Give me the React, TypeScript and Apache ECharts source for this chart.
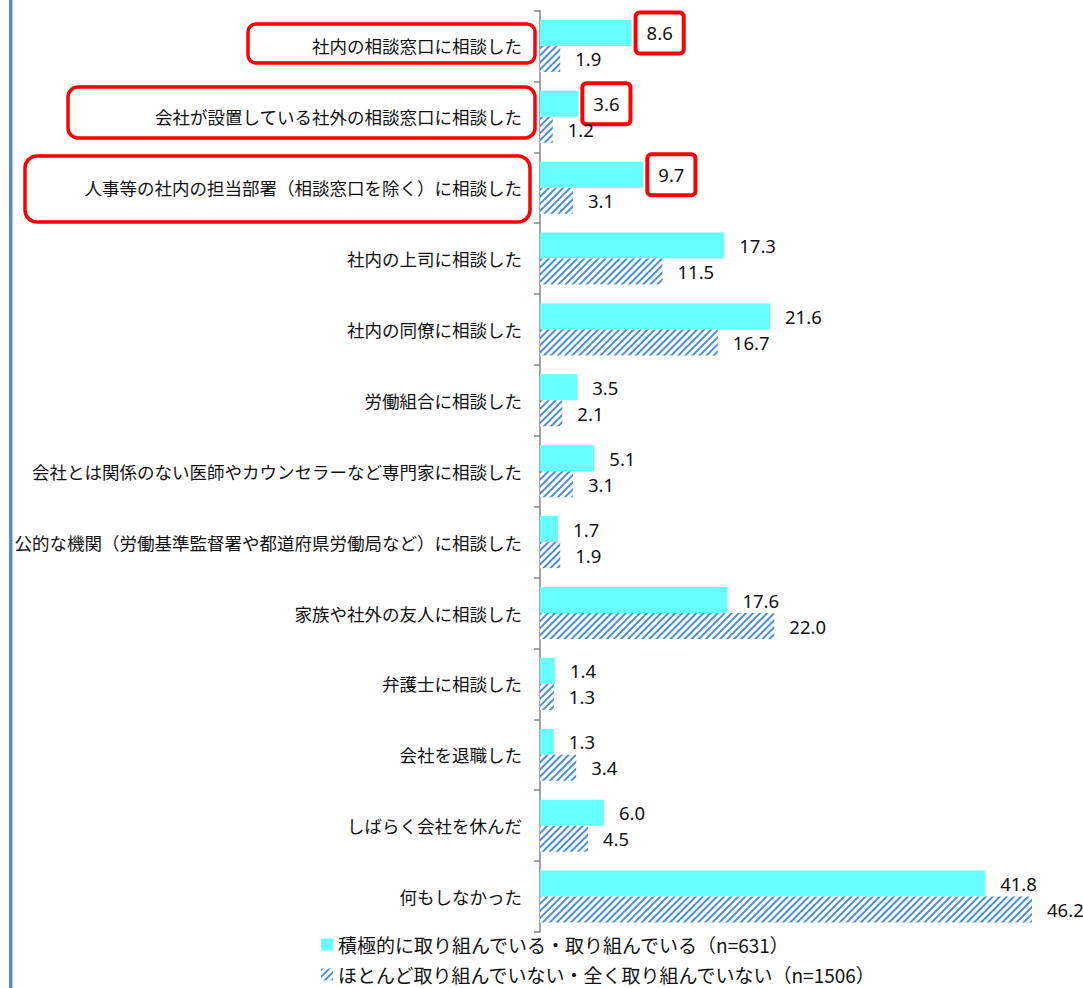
import React, { useEffect, useRef } from "react";
import * as echarts from "echarts";

const categories = [
  "社内の相談窓口に相談した",
  "会社が設置している社外の相談窓口に相談した",
  "人事等の社内の担当部署（相談窓口を除く）に相談した",
  "社内の上司に相談した",
  "社内の同僚に相談した",
  "労働組合に相談した",
  "会社とは関係のない医師やカウンセラーなど専門家に相談した",
  "公的な機関（労働基準監督署や都道府県労働局など）に相談した",
  "家族や社外の友人に相談した",
  "弁護士に相談した",
  "会社を退職した",
  "しばらく会社を休んだ",
  "何もしなかった",
];

const activeName = "積極的に取り組んでいる・取り組んでいる（n=631）";
const inactiveName = "ほとんど取り組んでいない・全く取り組んでいない（n=1506）";

const activeValues = [8.6, 3.6, 9.7, 17.3, 21.6, 3.5, 5.1, 1.7, 17.6, 1.4, 1.3, 6.0, 41.8];
const inactiveValues = [1.9, 1.2, 3.1, 11.5, 16.7, 2.1, 3.1, 1.9, 22.0, 1.3, 3.4, 4.5, 46.2];

const highlighted = [0, 1, 2];

const FONT = "'Noto Sans CJK JP', 'Noto Sans', sans-serif";
const NUMFONT = "'Noto Sans', 'Liberation Sans', sans-serif";

export default function App() {
  const ref = useRef<HTMLDivElement>(null);

  useEffect(() => {
    if (!ref.current) return;
    const chart = echarts.init(ref.current, null, { renderer: "svg" });

    const activeData = activeValues.map((v, i) =>
      highlighted.includes(i)
        ? {
            value: v,
            label: {
              distance: 6,
              borderColor: "#ff0000",
              borderWidth: 4,
              borderRadius: 2,
              padding: [10, 9, 8, 9],
              backgroundColor: "#ffffff",
            },
          }
        : { value: v }
    );

    const legendCommon = {
      orient: "horizontal",
      left: 316,
      itemWidth: 12,
      itemHeight: 12,
      icon: "rect",
      textStyle: { fontFamily: FONT, fontSize: 19, color: "#111" },
    };

    const labelCommon = {
      show: true,
      position: "right",
      distance: 15,
      color: "#111",
      fontFamily: NUMFONT,
      fontSize: 18.5,
      formatter: (p: any) => Number(p.value).toFixed(1),
    };

    const option: any = {
      animation: false,
      backgroundColor: "#ffffff",
      grid: { left: 540, right: 10.5, top: 10.5, height: 921.5, containLabel: false },
      xAxis: {
        type: "value",
        min: 0,
        max: 50,
        show: false,
      },
      yAxis: {
        type: "category",
        data: categories,
        inverse: true,
        axisLine: { show: true, lineStyle: { color: "#868686", width: 1.5 } },
        axisTick: { show: true, inside: false, length: 6, lineStyle: { color: "#868686", width: 1.5 } },
        axisLabel: {
          color: "#111",
          fontFamily: FONT,
          fontSize: 17.5,
          margin: 18,
        },
        splitLine: { show: false },
      },
      legend: [
        { ...legendCommon, top: 930, data: [activeName] },
        { ...legendCommon, top: 960, data: [inactiveName] },
      ],
      series: [
        {
          name: activeName,
          type: "bar",
          data: activeData,
          barWidth: 26,
          barGap: "0%",
          itemStyle: { color: "#66ffff" },
          label: labelCommon,
        },
        {
          name: inactiveName,
          type: "bar",
          data: inactiveValues,
          barWidth: 26,
          barGap: "0%",
          itemStyle: {
            color: "#ffffff",
            decal: {
              symbol: "rect",
              symbolSize: 1,
              color: "#4a90e0",
              backgroundColor: "#ffffff",
              dashArrayX: [1, 0],
              dashArrayY: [2, 3],
              rotation: -Math.PI / 4,
            },
          },
          label: labelCommon,
        },
      ],
      graphic: [
        { type: "rect", left: 9, top: 0, shape: { width: 3.5, height: 988 }, style: { fill: "#5a87c6" }, silent: true },
        {
          type: "rect",
          shape: { x: 248, y: 24, width: 287, height: 39, r: 8 },
          style: { fill: "none", stroke: "#ff0000", lineWidth: 3.5 },
          silent: true,
        },
        {
          type: "rect",
          shape: { x: 68, y: 87, width: 467, height: 51, r: 10 },
          style: { fill: "none", stroke: "#ff0000", lineWidth: 3.5 },
          silent: true,
        },
        {
          type: "rect",
          shape: { x: 25, y: 156, width: 505, height: 66, r: 12 },
          style: { fill: "none", stroke: "#ff0000", lineWidth: 3.5 },
          silent: true,
        },
      ],
    };

    chart.setOption(option);
    return () => chart.dispose();
  }, []);

  return (
    <div
      ref={ref}
      style={{ position: "fixed", left: 0, top: 0, width: 1083, height: 988, background: "#fff" }}
    />
  );
}
